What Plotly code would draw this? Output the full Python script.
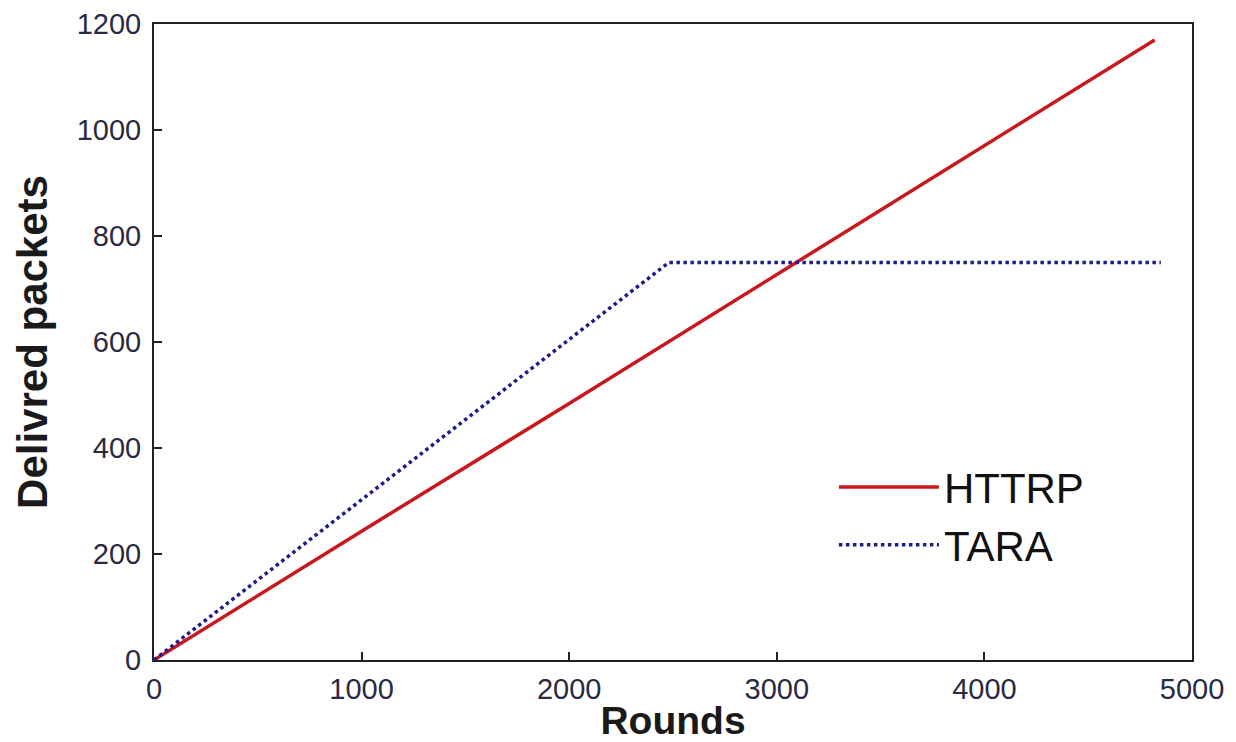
import plotly.graph_objects as go

httrp_x = [0, 1000, 2000, 3000, 4000, 4820]
httrp_y = [0, 243, 484, 727, 970, 1170]
tara_x = [0, 2480, 4850]
tara_y = [0, 750, 750]

x_ticks = [0, 1000, 2000, 3000, 4000, 5000]
y_ticks = [0, 200, 400, 600, 800, 1000, 1200]

FONT = "Liberation Sans, Arial"

fig = go.Figure()
fig.add_trace(go.Scatter(x=httrp_x, y=httrp_y, mode="lines", name="HTTRP",
                         line=dict(color="#c8181e", width=3.5)))
fig.add_trace(go.Scatter(x=tara_x, y=tara_y, mode="lines", name="TARA",
                         line=dict(color="#1c1c8a", width=3.5, dash="dot")))

axis_common = dict(showgrid=False, zeroline=False, showline=True, mirror=True,
                   linecolor="#222222", linewidth=2, ticks="inside", ticklen=8,
                   tickwidth=1.5, tickcolor="#222222", automargin=False,
                   tickfont=dict(family=FONT, size=29, color="#2a2a44"))

fig.update_xaxes(range=[0, 5000], tickvals=x_ticks, ticklabelstandoff=2,
                 title=dict(text="<b>Rounds</b>", standoff=2,
                            font=dict(family=FONT, size=39, color="#1a1a1a")),
                 **axis_common)
fig.update_yaxes(range=[0, 1200], tickvals=y_ticks, ticklabelstandoff=5,
                 title=dict(text="<b>Delivred packets</b>", standoff=16,
                            font=dict(family=FONT, size=42, color="#1a1a1a")),
                 **axis_common)

fig.update_layout(
    width=1236, height=742,
    margin=dict(l=154, r=44, t=24, b=82),
    plot_bgcolor="white", paper_bgcolor="white",
    showlegend=True,
    legend=dict(x=0.655, y=0.325, xanchor="left", yanchor="top",
                bgcolor="rgba(0,0,0,0)", traceorder="normal",
                itemwidth=100,
                font=dict(family=FONT, size=42, color="#111111")),
)

fig.write_html("out.html")
